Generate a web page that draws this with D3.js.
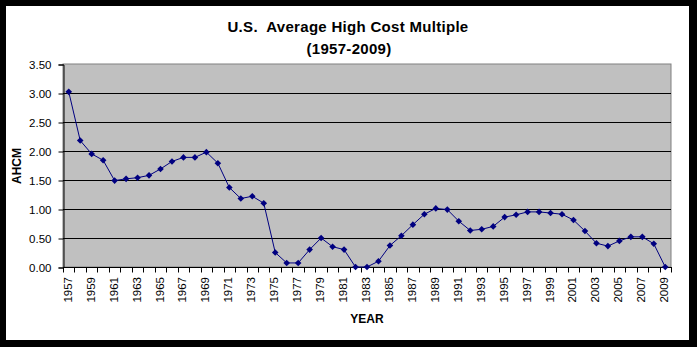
<!DOCTYPE html>
<html>
<head>
<meta charset="utf-8">
<script src="https://cdn.jsdelivr.net/npm/d3@7/dist/d3.min.js"></script>
<style>
  html, body { margin: 0; padding: 0; background: #000; }
  svg { display: block; }
  text { font-family: Arial, "Liberation Sans", sans-serif; }
</style>
</head>
<body>
<svg id="chart" width="697" height="347"></svg>
<script>
const titleLines = ["U.S.  Average High Cost Multiple", "(1957-2009)"];
const yAxisTitle = "AHCM";
const xAxisTitle = "YEAR";
const years = d3.range(1957, 2010);
const ahcm = [
  3.02, 2.18, 1.95, 1.84, 1.49, 1.52, 1.54, 1.58, 1.69, 1.82,
  1.89, 1.89, 1.98, 1.79, 1.37, 1.18, 1.22, 1.10, 0.25, 0.07,
  0.07, 0.30, 0.50, 0.35, 0.30, 0.00, 0.00, 0.10, 0.37, 0.54,
  0.73, 0.91, 1.01, 0.99, 0.79, 0.63, 0.65, 0.70, 0.86, 0.90,
  0.95, 0.95, 0.93, 0.91, 0.81, 0.62, 0.41, 0.36, 0.45, 0.52,
  0.52, 0.40, 0.00
];
const yTicks = [0, 0.5, 1.0, 1.5, 2.0, 2.5, 3.0, 3.5];
const xLabelYears = years.filter((y, i) => i % 2 === 0);

const data = years.map((y, i) => ({ year: y, value: ahcm[i] }));

const svg = d3.select("#chart");
const W = 697, H = 347;
const plot = { left: 63, right: 671, top: 64, bottom: 267 };

// frame
svg.append("rect").attr("x", 0).attr("y", 0).attr("width", W).attr("height", H).attr("fill", "#000");
svg.append("rect").attr("x", 6).attr("y", 6).attr("width", 683).attr("height", 334).attr("fill", "#fff");

const x = d3.scaleBand().domain(years).range([plot.left, plot.right]).paddingInner(0).paddingOuter(0);
const y = d3.scaleLinear().domain([0, 3.5]).range([plot.bottom, plot.top]);
const cx = d => x(d) + x.bandwidth() / 2;

// plot background
svg.append("rect")
  .attr("x", plot.left).attr("y", plot.top)
  .attr("width", plot.right - plot.left).attr("height", plot.bottom - plot.top)
  .attr("fill", "#c0c0c0").attr("stroke", "#808080").attr("stroke-width", 1);

// gridlines
svg.append("g").selectAll("line")
  .data(yTicks.filter(t => t > 0 && t < 3.5))
  .join("line")
  .attr("x1", plot.left).attr("x2", plot.right)
  .attr("y1", d => Math.round(y(d)) + 0.5).attr("y2", d => Math.round(y(d)) + 0.5)
  .attr("stroke", "#000").attr("stroke-width", 1);

// y axis
const yAxis = d3.axisLeft(y).tickValues(yTicks).tickFormat(d3.format(".2f")).tickSize(5).tickPadding(7);
const gy = svg.append("g").attr("transform", `translate(${plot.left + 0.5},0.5)`).call(yAxis);
gy.select(".domain").attr("stroke", "#000");
gy.selectAll(".tick line").attr("stroke", "#000");
gy.selectAll(".tick text").attr("font-size", 11.5).attr("fill", "#000")
  .attr("font-family", "Arial, 'Liberation Sans', sans-serif");

// x axis line and ticks at category boundaries
const boundaries = years.map(yr => x(yr)).concat([x(years[years.length - 1]) + x.bandwidth()]);
const gx = svg.append("g");
gx.append("line")
  .attr("x1", plot.left).attr("x2", plot.right)
  .attr("y1", plot.bottom + 0.5).attr("y2", plot.bottom + 0.5)
  .attr("stroke", "#000");
gx.selectAll("line.tk").data(boundaries).join("line").attr("class", "tk")
  .attr("x1", d => Math.round(d) + 0.5).attr("x2", d => Math.round(d) + 0.5)
  .attr("y1", plot.bottom).attr("y2", plot.bottom + 5.5)
  .attr("stroke", "#000");
gx.selectAll("text").data(xLabelYears).join("text")
  .attr("transform", d => `translate(${cx(d) + 3},${plot.bottom + 10}) rotate(-90)`)
  .attr("text-anchor", "end")
  .attr("font-size", 11.5)
  .attr("fill", "#000")
  .text(d => d);

// line
const line = d3.line().x(d => cx(d.year)).y(d => y(d.value));
svg.append("path").datum(data)
  .attr("d", line).attr("fill", "none").attr("stroke", "#000080").attr("stroke-width", 1);

// markers
const r = 3.3;
svg.append("g").selectAll("path").data(data).join("path")
  .attr("transform", d => `translate(${cx(d.year)},${y(d.value)})`)
  .attr("d", `M0,${-r}L${r},0L0,${r}L${-r},0Z`)
  .attr("fill", "#000080");

// titles
svg.append("text")
  .attr("x", 348).attr("y", 32)
  .attr("text-anchor", "middle")
  .attr("font-size", 15).attr("font-weight", "bold")
  .attr("letter-spacing", 0.3)
  .style("white-space", "pre")
  .text(titleLines[0]);
svg.append("text")
  .attr("x", 349).attr("y", 54)
  .attr("text-anchor", "middle")
  .attr("font-size", 15).attr("font-weight", "bold")
  .attr("letter-spacing", 0.3)
  .text(titleLines[1]);

svg.append("text")
  .attr("transform", `translate(21,166) rotate(-90)`)
  .attr("text-anchor", "middle")
  .attr("font-size", 12).attr("font-weight", "bold")
  .text(yAxisTitle);

svg.append("text")
  .attr("x", (plot.left + plot.right) / 2).attr("y", 323)
  .attr("text-anchor", "middle")
  .attr("font-size", 12).attr("font-weight", "bold")
  .text(xAxisTitle);
</script>
</body>
</html>
